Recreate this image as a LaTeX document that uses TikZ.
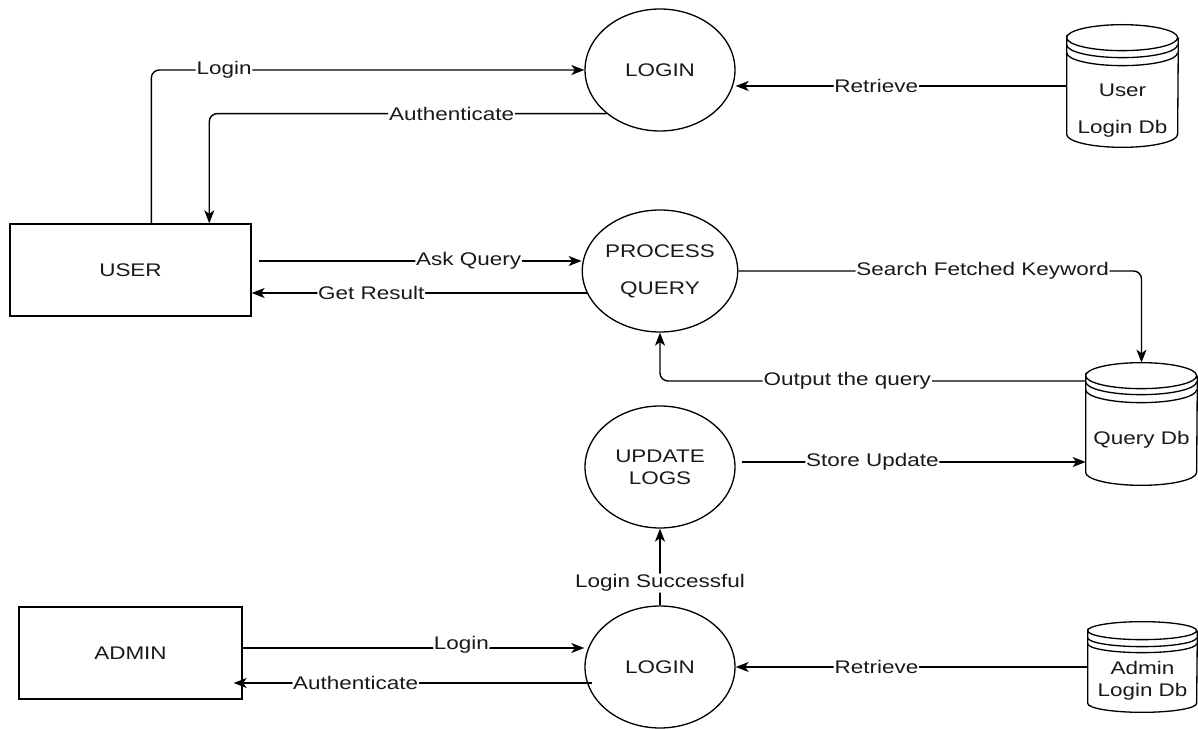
\documentclass[tikz,border=0pt]{standalone}
\usepackage{fontspec}
\setmainfont{Liberation Sans}[FakeStretch=1.23]
\usetikzlibrary{arrows.meta,shapes.geometric}
\newcommand\mydbshape[5]{%
  \draw[dbline] ([yshift=-#3]#1.north west) arc[start angle=180,end angle=-180,x radius=#2,y radius=#3]
    -- ([yshift=#3]#1.south west) arc[start angle=180,end angle=360,x radius=#2,y radius=#3]
    -- ([yshift=-#3]#1.north east);
  \draw[dbline] ([yshift=-#3-#4]#1.north west) arc[start angle=180,end angle=360,x radius=#2,y radius=#3];
  \draw[dbline] ([yshift=-#3-#5]#1.north west) arc[start angle=180,end angle=360,x radius=#2,y radius=#3];
}
\begin{document}
\begin{tikzpicture}[x=0.02cm,y=-0.02cm,
  every node/.style={font=\fontsize{10.4pt}{12.5pt}\selectfont, text=black!90},
  proc/.style={draw, ellipse, line width=0.75pt, minimum width=3cm, minimum height=2.44cm, inner sep=0pt, align=center},
  ent/.style={draw, rectangle, line width=0.8pt, inner sep=0pt},
  store/.style={rectangle, inner sep=0pt},
  dbline/.style={line width=0.75pt},
  flow/.style={line width=0.8pt, -{Stealth[length=0.26cm,width=0.2cm,inset=0.07cm]}, rounded corners=0.16cm},
  lbl/.style={fill=white, inner sep=0.5pt}]
\useasboundingbox (0,0) rectangle (1198,729);

% entities
\node[ent, minimum width=4.82cm, minimum height=1.84cm] (user) at (130.5,270) {USER};
\node[ent, minimum width=4.46cm, minimum height=1.84cm] (admin) at (130.5,653) {ADMIN};

% processes
\node[proc] (login1) at (660,70) {LOGIN};
\node[proc] (proc) at (660,271) {\raisebox{-1.7pt}{PROCESS}\\[8.5pt]\raisebox{-1.7pt}{QUERY}};
\node[proc] (upd) at (660,467) {UPDATE\\LOGS};
\node[proc] (login2) at (660,667) {LOGIN};

% data stores
\node[store, minimum width=2.22cm, minimum height=2.44cm] (udb) at (1122.5,86) {};
\node[store, minimum width=2.22cm, minimum height=2.44cm] (qdb) at (1141.5,424) {};
\node[store, minimum width=2.18cm, minimum height=1.8cm] (adb) at (1142.5,667) {};
\mydbshape{udb}{1.11cm}{0.26cm}{0.14cm}{0.3cm}
\mydbshape{qdb}{1.11cm}{0.26cm}{0.12cm}{0.28cm}
\mydbshape{adb}{1.09cm}{0.18cm}{0.14cm}{0.26cm}
\node[align=center] (udbt) at ([yshift=-0.5cm]udb.center) {User\\[8.5pt]Login Db};
\node (qdbt) at ([yshift=-0.32cm]qdb.center) {Query Db};
\node[align=center] (adbt) at ([yshift=-0.28cm]adb.center) {Admin\\Login Db};

% flows
\draw[flow] (user.north west) ++(142,0) |- (login1.west) node[lbl,pos=0.584] {Login};
\draw[flow] (login1.south west) -| ([xshift=4cm]user.north west) node[lbl,pos=0.195] {Authenticate};
\draw[flow] (udb.west) -- (udb.west -| login1.east) node[lbl,pos=0.575] {Retrieve};

\draw[flow] ([shift={(0.14cm,0.18cm)}]user.east) coordinate (aq) -- (aq -| proc.west) node[lbl,pos=0.65] {Ask Query};
\draw[flow] ([shift={(0.1cm,-0.44cm)}]proc.west) coordinate (gr) -- (gr -| user.east) node[lbl,pos=0.643] {Get Result};
\draw[flow] (proc.east) -| (qdb.north) node[lbl,pos=0.303] {Search Fetched Keyword};
\draw[flow] ([yshift=0.86cm]qdb.west) -| (proc.south) node[lbl,pos=0.28] {Output the query};

\draw[flow] ([shift={(0.12cm,0.1cm)}]upd.east) coordinate (su) -- (su -| qdb.west) node[lbl,pos=0.38] {Store Update};
\draw[flow] (login2.north) -- (upd.south) node[lbl,pos=0.29] {Login Successful};

\draw[flow] ([yshift=0.1cm]admin.east) coordinate (al) -- (al -| login2.west) node[lbl,pos=0.64,yshift=0.06cm] {Login};
\path ([shift={(0.16cm,-0.32cm)}]login2.west) coordinate (aa);
\path (aa -| admin.east) coordinate (ae);
\draw[flow] (aa) -- ([xshift=-0.18cm]ae) node[lbl,pos=0.66] {Authenticate};
\draw[flow] (adb.west) -- (login2.east) node[lbl,pos=0.6] {Retrieve};
\end{tikzpicture}
\end{document}
